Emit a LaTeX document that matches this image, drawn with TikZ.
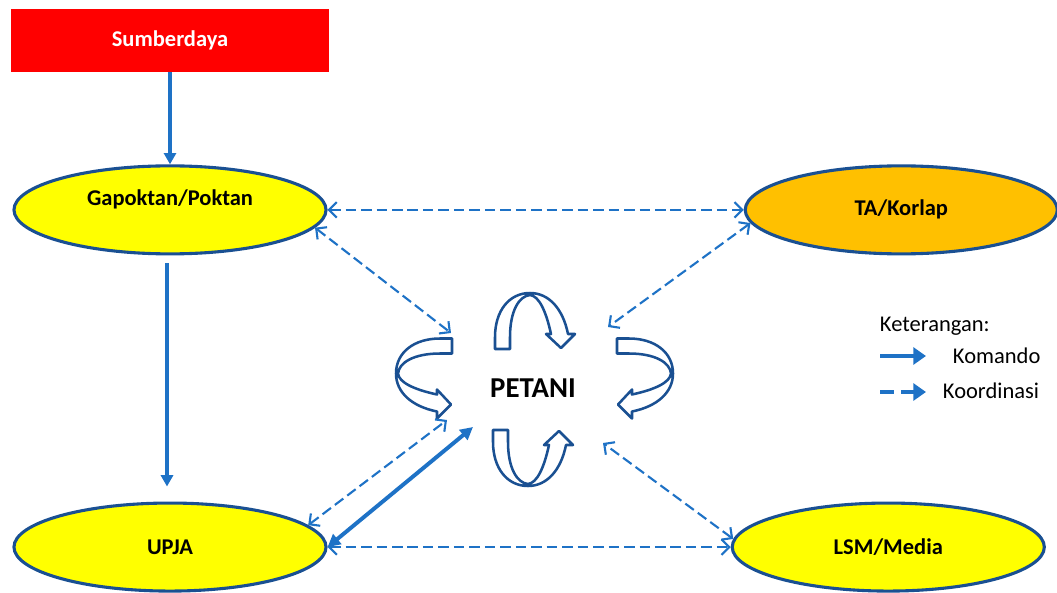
\documentclass[tikz,border=0pt]{standalone}
\usepackage{fontspec}
\setmainfont{Carlito}
\usepackage{tikz}
\usetikzlibrary{shapes,arrows.meta,positioning}
\definecolor{merah}{RGB}{255, 0, 0}
\definecolor{kuning}{RGB}{255, 255, 0}
\definecolor{jingga}{RGB}{255, 192, 0}
\definecolor{garis}{RGB}{26, 80, 146}
\definecolor{panah}{RGB}{30, 114, 198}
\tikzstyle{sumbox} = [rectangle, fill=merah, draw=none, text=white, font=\fontsize{16}{19}\selectfont\bfseries, minimum width=7.95cm, minimum height=1.575cm, inner sep=0pt]
\tikzstyle{elips} = [ellipse, draw=garis, line width=2.2pt, fill=kuning, text=black, font=\fontsize{16}{19}\selectfont\bfseries, minimum width=7.8cm, minimum height=2.2cm, inner sep=0pt]
\tikzstyle{textonly} = [draw=none, fill=none, text centered, font=\fontsize{16}{19}\selectfont]
\tikzstyle{komando} = [draw, panah, line width=2.2pt, -{Triangle[length=8pt,width=8.5pt]}]
\tikzstyle{tebal} = [draw, panah, line width=2.8pt, {Triangle[length=9pt,width=9pt]}-{Triangle[length=9pt,width=9pt]}]
\tikzstyle{koord} = [draw, panah, line width=1.5pt, dash pattern=on 7.5pt off 3.5pt, {Straight Barb[length=5.5pt,width=11pt]}-{Straight Barb[length=5.5pt,width=11pt]}]
\tikzstyle{legenda} = [draw, panah, line width=3pt, -{Triangle[length=9pt,width=12pt]}]
\tikzstyle{putaran} = [draw=garis, fill=white, line width=1.8pt, line join=round]
\newcommand{\putar}[1]{%
  \draw[putaran,#1] (-36,0) -- (-36,-12) .. controls (-36,-38) and (-22,-56) .. (-1,-56)
    .. controls (18,-56) and (32,-40) .. (37,-15) -- (44,-15) -- (30,-1) -- (15,-15) -- (20,-15)
    .. controls (15,-38) and (8,-53) .. (-1,-54) .. controls (-12,-53) and (-21,-38) .. (-21,-12)
    -- (-21,0) -- cycle;}

\begin{document}
\begin{tikzpicture}[x=0.025cm, y=-0.025cm]
\useasboundingbox (0,0) rectangle (1057,592);

% nodes =============================
\node[sumbox] (sumber) at (170,40.5) {Sumberdaya};
\node[elips, below=2.3cm of sumber, text height=12pt, text depth=18.6pt] (gapoktan) {Gapoktan/Poktan};
\node[elips, below=6.15cm of gapoktan] (upja) {UPJA};
\node[elips, fill=jingga, right=10.4cm of gapoktan] (ta) {TA/Korlap};
\node[elips, right=10.075cm of upja] (lsm) {LSM/Media};
\node[textonly, font=\fontsize{20.5}{24}\selectfont\bfseries] (petani) at (533,388) {PETANI};

% around petani
\coordinate (pNW) at (451,333);
\coordinate (pNE) at (608,327);
\coordinate (pSW) at (447,420);
\coordinate (pSE) at (603,443);
\coordinate (pSS) at (473,427);

\putar{shift={(531,349)}}
\putar{shift={(529,430)}, yscale=-1}
\putar{shift={(452,374.5)}, cm={0,-1,-1,0,(0,0)}}
\putar{shift={(617,374.5)}, rotate=-90}

% legend
\node[textonly, anchor=base west] (ket) at (875,331.5) {Keterangan:};
\node[textonly, anchor=base west] (kom) at (948,363) {Komando};
\node[textonly, anchor=base west] (koor) at (938,398) {Koordinasi};
\coordinate (kom1) at (880,356);
\coordinate (kom2) at (926,356);
\coordinate (koor1) at (880,392);
\coordinate (koor2) at (926,392);

% edges
\path[komando] (sumber) -- (gapoktan);
\path[komando, shorten <=0.2cm, shorten >=0.375cm] ([xshift=-0.075cm]gapoktan.south) -- ([xshift=-0.075cm]upja.north);
\path[koord] (gapoktan.east) -- (ta.west);
\path[koord] (gapoktan.-7) -- (pNW);
\path[koord] (ta.185) -- (pNE);
\path[koord] (upja.9) -- (pSW);
\path[koord] (upja.east) -- (lsm.west);
\path[koord] (lsm.177) -- (pSE);
\path[tebal] (upja.east) -- (pSS);
\path[legenda] (kom1) -- (kom2);
\path[legenda, dash pattern=on 10pt off 5pt] (koor1) -- (koor2);

\end{tikzpicture}
\end{document}
